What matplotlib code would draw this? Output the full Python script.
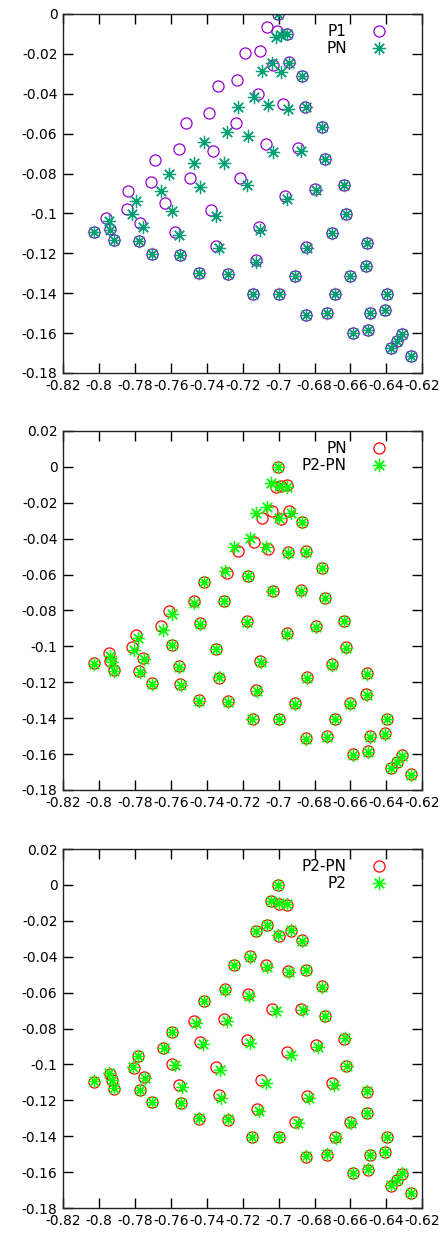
import matplotlib
matplotlib.use("Agg")
import matplotlib.pyplot as plt

# point sets (x, y in data units)
P1_x = [-0.7001, -0.7066, -0.7010, -0.6955, -0.7187, -0.7105, -0.7029, -0.6940, -0.6868, -0.7339,
        -0.7229, -0.7116, -0.6977, -0.6853, -0.6760, -0.7385, -0.7237, -0.7515, -0.7070, -0.6890,
        -0.6741, -0.7552, -0.7367, -0.7686, -0.7493, -0.7214, -0.7708, -0.6797, -0.6634, -0.7840,
        -0.7845, -0.7632, -0.7376, -0.6964, -0.6624, -0.7961, -0.7771, -0.7109, -0.7938, -0.8027,
        -0.7576, -0.6704, -0.7916, -0.7777, -0.7350, -0.6847, -0.6509, -0.7706, -0.7549, -0.7125,
        -0.6513, -0.7444, -0.7280, -0.6908, -0.6602, -0.7145, -0.6997, -0.6686, -0.6398, -0.6847,
        -0.6728, -0.6491, -0.6407, -0.6584, -0.6503, -0.6311, -0.6342, -0.6375, -0.6264]
P1_y = [0.0, -0.0067, -0.0084, -0.0102, -0.0197, -0.0185, -0.0255, -0.0242, -0.0309, -0.0361,
        -0.0332, -0.0401, -0.0451, -0.0467, -0.0565, -0.0499, -0.0548, -0.0545, -0.0653, -0.0670,
        -0.0728, -0.0678, -0.0685, -0.0731, -0.0820, -0.0823, -0.0843, -0.0879, -0.0857, -0.0889,
        -0.0977, -0.0948, -0.0982, -0.0912, -0.1004, -0.1024, -0.1049, -0.1066, -0.1079, -0.1091,
        -0.1091, -0.1099, -0.1132, -0.1136, -0.1161, -0.1169, -0.1146, -0.1204, -0.1211, -0.1236,
        -0.1266, -0.1299, -0.1303, -0.1316, -0.1316, -0.1404, -0.1404, -0.1404, -0.1404, -0.1508,
        -0.1500, -0.1500, -0.1483, -0.1600, -0.1583, -0.1603, -0.1642, -0.1675, -0.1713]

PN_x = [-0.7001, -0.7014, -0.6986, -0.6955, -0.7095, -0.7035, -0.6940, -0.6988, -0.6868, -0.7139,
        -0.7226, -0.7057, -0.6946, -0.6847, -0.6760, -0.7289, -0.7170, -0.7413, -0.7032, -0.6877,
        -0.6741, -0.7471, -0.7302, -0.7612, -0.7437, -0.7175, -0.7654, -0.6794, -0.6634, -0.7794,
        -0.7817, -0.7595, -0.7348, -0.6951, -0.6624, -0.7944, -0.7753, -0.7101, -0.7938, -0.8027,
        -0.7554, -0.6704, -0.7916, -0.7777, -0.7333, -0.6844, -0.6509, -0.7706, -0.7549, -0.7123,
        -0.6513, -0.7444, -0.7280, -0.6908, -0.6602, -0.7145, -0.6997, -0.6686, -0.6398, -0.6847,
        -0.6728, -0.6491, -0.6407, -0.6584, -0.6503, -0.6311, -0.6342, -0.6375, -0.6264]
PN_y = [0.0, -0.0114, -0.0105, -0.0102, -0.0286, -0.0247, -0.0247, -0.0289, -0.0309, -0.0417,
        -0.0466, -0.0456, -0.0476, -0.0467, -0.0565, -0.0590, -0.0610, -0.0640, -0.0690, -0.0685,
        -0.0728, -0.0748, -0.0745, -0.0802, -0.0869, -0.0857, -0.0887, -0.0884, -0.0857, -0.0937,
        -0.1004, -0.0990, -0.1012, -0.0928, -0.1004, -0.1036, -0.1066, -0.1082, -0.1082, -0.1091,
        -0.1107, -0.1099, -0.1132, -0.1136, -0.1174, -0.1172, -0.1146, -0.1204, -0.1211, -0.1242,
        -0.1266, -0.1299, -0.1303, -0.1316, -0.1316, -0.1404, -0.1404, -0.1404, -0.1404, -0.1508,
        -0.1500, -0.1500, -0.1483, -0.1600, -0.1583, -0.1603, -0.1642, -0.1675, -0.1713]

P2PN_x = [-0.7001, -0.7044, -0.6996, -0.6951, -0.7125, -0.7062, -0.6932, -0.6996, -0.6868, -0.7159,
          -0.7248, -0.7070, -0.6946, -0.6847, -0.6760, -0.7298, -0.7172, -0.7413, -0.7035, -0.6877,
          -0.6741, -0.7469, -0.7302, -0.7595, -0.7437, -0.7177, -0.7642, -0.6791, -0.6634, -0.7781,
          -0.7805, -0.7591, -0.7348, -0.6951, -0.6624, -0.7938, -0.7747, -0.7098, -0.7929, -0.8027,
          -0.7554, -0.6704, -0.7914, -0.7771, -0.7333, -0.6840, -0.6509, -0.7706, -0.7545, -0.7122,
          -0.6509, -0.7444, -0.7280, -0.6907, -0.6602, -0.7146, -0.6997, -0.6686, -0.6398, -0.6847,
          -0.6728, -0.6491, -0.6407, -0.6584, -0.6503, -0.6311, -0.6342, -0.6375, -0.6264]
P2PN_y = [0.0, -0.0091, -0.0106, -0.0110, -0.0255, -0.0225, -0.0255, -0.0283, -0.0309, -0.0394,
          -0.0445, -0.0448, -0.0478, -0.0476, -0.0565, -0.0580, -0.0609, -0.0644, -0.0690, -0.0690,
          -0.0732, -0.0757, -0.0747, -0.0820, -0.0875, -0.0862, -0.0909, -0.0894, -0.0858, -0.0955,
          -0.1020, -0.0995, -0.1014, -0.0931, -0.1007, -0.1053, -0.1072, -0.1085, -0.1089, -0.1098,
          -0.1113, -0.1104, -0.1135, -0.1144, -0.1172, -0.1178, -0.1154, -0.1209, -0.1217, -0.1248,
          -0.1271, -0.1303, -0.1308, -0.1321, -0.1321, -0.1406, -0.1406, -0.1406, -0.1406, -0.1516,
          -0.1503, -0.1506, -0.1488, -0.1605, -0.1590, -0.1609, -0.1642, -0.1679, -0.1716]

P2_x = [-0.7001, -0.7044, -0.6996, -0.6951, -0.7125, -0.7062, -0.6932, -0.7001, -0.6868, -0.7159,
        -0.7248, -0.7062, -0.6940, -0.6847, -0.6760, -0.7298, -0.7163, -0.7413, -0.7017, -0.6865,
        -0.6740, -0.7459, -0.7289, -0.7595, -0.7422, -0.7157, -0.7636, -0.6779, -0.6630, -0.7781,
        -0.7809, -0.7576, -0.7326, -0.6932, -0.6620, -0.7942, -0.7743, -0.7071, -0.7929, -0.8027,
        -0.7539, -0.6691, -0.7914, -0.7771, -0.7322, -0.6829, -0.6509, -0.7706, -0.7545, -0.7107,
        -0.6509, -0.7444, -0.7280, -0.6893, -0.6596, -0.7146, -0.6997, -0.6680, -0.6398, -0.6847,
        -0.6728, -0.6491, -0.6407, -0.6584, -0.6503, -0.6311, -0.6342, -0.6375, -0.6264]
P2_y = [0.0, -0.0090, -0.0099, -0.0108, -0.0255, -0.0223, -0.0251, -0.0279, -0.0311, -0.0400,
        -0.0446, -0.0456, -0.0484, -0.0474, -0.0567, -0.0586, -0.0617, -0.0646, -0.0701, -0.0699,
        -0.0728, -0.0768, -0.0758, -0.0818, -0.0888, -0.0881, -0.0910, -0.0905, -0.0855, -0.0953,
        -0.1016, -0.1003, -0.1031, -0.0948, -0.1009, -0.1046, -0.1074, -0.1105, -0.1087, -0.1092,
        -0.1124, -0.1115, -0.1133, -0.1143, -0.1186, -0.1189, -0.1148, -0.1208, -0.1217, -0.1258,
        -0.1269, -0.1297, -0.1306, -0.1328, -0.1325, -0.1403, -0.1403, -0.1408, -0.1403, -0.1510,
        -0.1499, -0.1505, -0.1486, -0.1603, -0.1584, -0.1607, -0.1644, -0.1672, -0.1715]

x_ticks = [-0.82, -0.80, -0.78, -0.76, -0.74, -0.72, -0.70, -0.68, -0.66, -0.64, -0.62]
x_labels = ["-0.82", "-0.8", "-0.78", "-0.76", "-0.74", "-0.72", "-0.7", "-0.68", "-0.66", "-0.64", "-0.62"]
y_ticks_top = [0.0, -0.02, -0.04, -0.06, -0.08, -0.10, -0.12, -0.14, -0.16, -0.18]
y_labels_top = ["0", "-0.02", "-0.04", "-0.06", "-0.08", "-0.1", "-0.12", "-0.14", "-0.16", "-0.18"]
y_ticks = [0.02] + y_ticks_top
y_labels = ["0.02"] + y_labels_top

ASTERISK = (8, 2, 0)


def setup_axes(ax, yticks, ylabels, ylim):
    ax.set_xlim(-0.82, -0.62)
    ax.set_ylim(*ylim)
    ax.set_xticks(x_ticks, x_labels)
    ax.set_yticks(yticks, ylabels)
    ax.tick_params(direction="in", length=7, width=1, top=True, right=True,
                   labelsize=10, pad=4, colors="black")
    for s in ax.spines.values():
        s.set_linewidth(1.0)
        s.set_color("#222222")


def draw_panel(ax, cx, cy, clabel, ccolor, sx, sy, slabel, scolor):
    ax.plot(cx, cy, linestyle="none", marker="o", markersize=8, fillstyle="none",
            markeredgewidth=0.9, color=ccolor, label=clabel)
    ax.plot(sx, sy, linestyle="none", marker=ASTERISK, markersize=9.5, markeredgewidth=0.9,
            color=scolor, label=slabel)
    ax.legend(loc="upper right", bbox_to_anchor=(0.9, 0.972), frameon=False,
              markerfirst=False, fontsize=11, handlelength=1.0, handletextpad=1.6,
              labelspacing=0.15, borderpad=0, borderaxespad=0)


def main():
    fig = plt.figure(figsize=(4.43, 12.37), dpi=100)
    ax1 = fig.add_axes([0.1422, 0.6985, 0.8111, 0.2902])
    ax2 = fig.add_axes([0.1422, 0.3614, 0.8111, 0.2902])
    ax3 = fig.add_axes([0.1422, 0.0234, 0.8111, 0.2902])

    setup_axes(ax1, y_ticks_top, y_labels_top, (-0.18, 0.0))
    draw_panel(ax1, P1_x, P1_y, "P1", "#9400D3", PN_x, PN_y, "PN", "#009E73")

    setup_axes(ax2, y_ticks, y_labels, (-0.18, 0.02))
    draw_panel(ax2, PN_x, PN_y, "PN", "#FF0000", P2PN_x, P2PN_y, "P2-PN", "#00FF00")

    setup_axes(ax3, y_ticks, y_labels, (-0.18, 0.02))
    draw_panel(ax3, P2PN_x, P2PN_y, "P2-PN", "#FF0000", P2_x, P2_y, "P2", "#00FF00")

    fig.savefig("out.png", dpi=100)
    plt.close(fig)


if __name__ == "__main__":
    main()
